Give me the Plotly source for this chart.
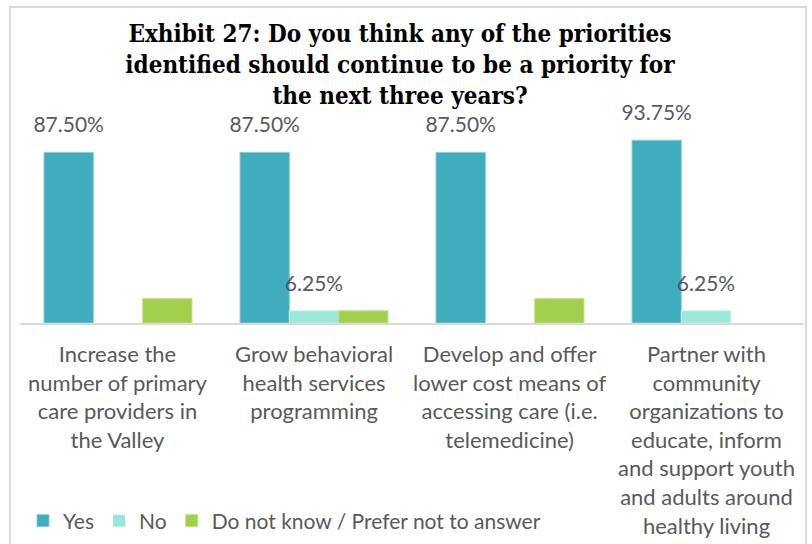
import plotly.graph_objects as go

categories = [
    "Increase the<br>number of primary<br>care providers in<br>the Valley",
    "Grow behavioral<br>health services<br>programming",
    "Develop and offer<br>lower cost means of<br>accessing care (i.e.<br>telemedicine)",
    "Partner with<br>community<br>organizations to<br>educate, inform<br>and support youth<br>and adults around<br>healthy living",
]
cat_keys = ["c1", "c2", "c3", "c4"]

yes_vals = [87.50, 87.50, 87.50, 93.75]
no_vals = [0.0, 6.25, 0.0, 6.25]
dk_vals = [12.50, 6.25, 12.50, 0.0]

W, H = 812, 544
PL, PR = 20, 804      # plot area in pixels
PT, PB = 128, 323
GAP = 0.245

LABEL_COLOR = "#595959"
FONT = "Lato"

series = [
    ("Yes", yes_vals, "#40ADBE", "#86CFDA", True),
    ("No", no_vals, "#9CE8D8", "#C4F1E8", True),
    ("Do not know / Prefer not to answer", dk_vals, "#A2CF4C", "#C3E288", False),
]

fig = go.Figure()
for i, (name, vals, fill, edge, labelled) in enumerate(series):
    fig.add_bar(
        x=cat_keys, y=vals, name=name, offsetgroup=str(i),
        marker=dict(color=fill,
                    line=dict(color=edge, width=[1 if v else 0 for v in vals])),
        hoverinfo="name+y",
    )
    # value labels floating above each bar
    fig.add_scatter(
        x=cat_keys, y=vals, offsetgroup=str(i), mode="markers+text",
        text=[f"{v:.2f}%" if (v and labelled) else "" for v in vals],
        textposition="top center", cliponaxis=False,
        marker=dict(size=22, color="rgba(0,0,0,0)"),
        textfont=dict(family=FONT, size=21, color=LABEL_COLOR),
        showlegend=False, hoverinfo="skip",
    )

ph = PB - PT
pw = PR - PL

# category labels under the axis
for key, label in zip(cat_keys, categories):
    fig.add_annotation(
        x=key, xref="x", y=(PB - 338) / ph, yref="paper",
        text=label, showarrow=False, yanchor="top", xanchor="center",
        align="center", font=dict(family=FONT, size=22, color=LABEL_COLOR),
    )

# chart frame
fig.add_shape(
    type="rect", xref="paper", yref="paper",
    x0=(10 - PL) / pw, x1=(806 - PL) / pw,
    y0=(PB - 600) / ph, y1=(PB - 7) / ph,
    line=dict(color="#D9D9D9", width=2), layer="below",
)

fig.update_layout(
    width=W, height=H,
    margin=dict(l=PL, r=W - PR, t=PT, b=H - PB, pad=0, autoexpand=False),
    paper_bgcolor="white", plot_bgcolor="white",
    barmode="group", bargap=GAP, bargroupgap=0,
    scattermode="group", scattergap=GAP,
    title=dict(
        text="Exhibit 27: Do you think any of the priorities<br>identified should continue to be a priority for<br>the next three years?",
        x=(400 - PL) / pw, xref="paper", xanchor="center",
        y=1 - 42 / H, yref="container", yanchor="top",
        font=dict(family="DejaVu Serif Condensed", size=24, color="#000000", weight="bold"),
    ),
    showlegend=True,
    legend=dict(
        orientation="h", x=(23 - PL) / pw, xanchor="left",
        y=(PB - 521) / ph, yanchor="middle",
        font=dict(family=FONT, size=21, color=LABEL_COLOR),
        bgcolor="rgba(0,0,0,0)", itemclick=False,
    ),
    xaxis=dict(
        showticklabels=False, showline=True, linecolor="#D9D9D9", linewidth=2,
        ticks="", showgrid=False, zeroline=False,
    ),
    yaxis=dict(
        range=[0, 100], visible=False, showgrid=False, zeroline=False,
    ),
)

fig.write_html("out.html")
